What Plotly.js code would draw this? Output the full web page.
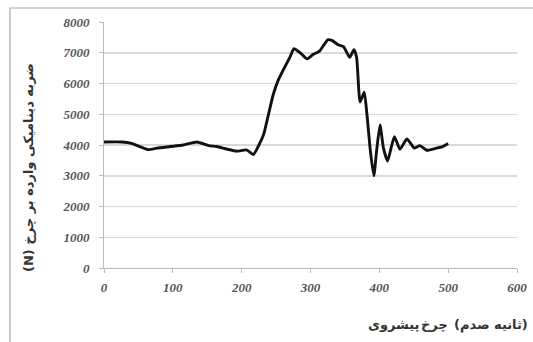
<!DOCTYPE html>
<html>
<head>
<meta charset="utf-8">
<script src="https://cdn.plot.ly/plotly-3.0.1.min.js"></script>
<style>html,body{margin:0;padding:0;background:#fff;}#chart{width:533px;height:342px;}</style>
</head>
<body>
<div id="chart"></div>
<script>
// time (hundredths of a second)
const timeVals = [0, 26, 40, 64, 77, 96, 115, 135, 152, 164, 178, 193, 207, 217, 224, 232, 239, 246, 253, 263, 270, 276, 285, 295, 304, 313, 325, 331, 341, 348, 357, 363, 367, 372, 378, 382, 387, 392, 396, 401, 406, 412, 417, 422, 430, 440, 451, 459, 469, 483, 492, 500];
// dynamic force on wheel (N)
const forceVals = [4100, 4100, 4050, 3850, 3900, 3950, 4000, 4100, 3980, 3950, 3870, 3800, 3840, 3690, 3950, 4350, 5000, 5650, 6100, 6550, 6850, 7130, 7000, 6800, 6950, 7050, 7420, 7400, 7250, 7200, 6850, 7100, 6850, 5400, 5720, 5000, 3800, 3000, 3800, 4650, 3900, 3480, 3900, 4270, 3860, 4200, 3900, 3980, 3830, 3900, 3950, 4050];
const xTickVals = [0, 100, 200, 300, 400, 500, 600];
const yTickVals = [0, 1000, 2000, 3000, 4000, 5000, 6000, 7000, 8000];
const xTitleWords = ["پیشروی", "چرخ", "(صدم", "ثانیه)"];
const yTitle = "ضربه دینامیکی وارده بر چرخ (N)";

const tickFont = {family: "Liberation Serif, Times New Roman, serif", size: 13, color: "#555", weight: "bold", style: "italic"};

// layout: the x title is laid out word by word, left to right, as in the source image
const plotLeft = 104, plotWidth = 413;
const wordRightEdges = [422, 450, 492, 530];
const xTitleAnnotations = xTitleWords.map((w, i) => ({
  text: w, xref: "paper", yref: "paper",
  x: (wordRightEdges[i] - plotLeft) / plotWidth, y: -0.2317,
  xanchor: "right", yanchor: "middle", showarrow: false,
  font: {family: "DejaVu Sans", size: 13, color: "#333", weight: "bold"}
}));

Plotly.newPlot("chart", [{
  x: timeVals, y: forceVals, type: "scatter", mode: "lines",
  line: {color: "#111", width: 2.9, shape: "spline", smoothing: 0.5},
  hoverinfo: "none"
}], {
  width: 533, height: 342,
  margin: {l: 104, r: 16, t: 22, b: 74},
  paper_bgcolor: "#fff", plot_bgcolor: "#fff",
  showlegend: false,
  xaxis: {
    range: [0, 600], tickvals: xTickVals, ticktext: xTickVals.map(String),
    showgrid: false, zeroline: false, showline: true, linecolor: "#bbb", linewidth: 1,
    ticks: "outside", ticklen: 4, tickcolor: "#bbb", tickfont: tickFont, ticklabelstandoff: 3
  },
  yaxis: {
    range: [0, 8000], tickvals: yTickVals, ticktext: yTickVals.map(String),
    showgrid: true, gridcolor: "#d9d9d9", gridwidth: 1.5, zeroline: false,
    showline: true, linecolor: "#bbb", linewidth: 1,
    ticks: "outside", ticklen: 4, tickcolor: "#bbb", tickfont: tickFont, ticklabelstandoff: 7
  },
  shapes: [{
    type: "rect", xref: "paper", yref: "paper",
    x0: -0.2276, x1: 1.3, y0: -0.6, y1: 1.0569,
    line: {color: "#a8a8a8", width: 1.2}, fillcolor: "rgba(0,0,0,0)", layer: "below"
  }],
  annotations: [{
    text: "\u202B" + yTitle + "\u202C", xref: "paper", yref: "paper", x: -0.184, y: 0.4065,
    xanchor: "center", yanchor: "middle", textangle: -90, showarrow: false,
    font: {family: "DejaVu Sans", size: 13, color: "#333", weight: "bold"}
  }].concat(xTitleAnnotations)
}, {staticPlot: true});
</script>
</body>
</html>
